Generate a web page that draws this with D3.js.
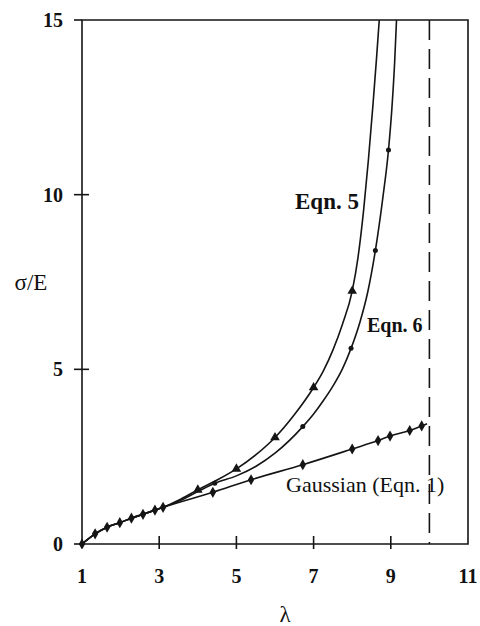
<head>
    <title>sigma/E vs lambda</title>
    <script src="https://d3js.org/d3.v7.min.js"></script>
    <style>
        body { margin: 0; background: white; }
        .tick-label { font-family: "Liberation Serif", serif; font-size: 20px; font-weight: bold; fill: #111; }
        .axis-title { font-family: "Liberation Serif", serif; font-size: 23px; fill: #111; }
        .curve { fill: none; stroke: #151515; stroke-width: 1.6px; }
        .frame { stroke: #151515; stroke-width: 1.6px; fill: none; }
    </style>
</head>
<body>
    <div class="container"></div>
    <script>
        // values
        let lambdaTicks = [1, 3, 5, 7, 9, 11];
        let sigmaTicks = [0, 5, 10, 15];
        let lambdaLimit = 10;

        let shared = [[1, 0], [1.34, 0.29], [1.65, 0.48], [1.98, 0.61], [2.28, 0.74], [2.58, 0.85], [2.89, 0.97], [3.1, 1.05]];

        let gaussLine = shared.concat([[4.39, 1.48], [5.38, 1.84], [6.72, 2.27], [8.0, 2.72], [8.67, 2.96], [8.98, 3.09], [9.49, 3.25], [9.8, 3.38], [9.94, 3.44]]);
        let gaussMarks = shared.concat([[4.39, 1.48], [5.38, 1.84], [6.72, 2.27], [8.0, 2.72], [8.67, 2.96], [8.98, 3.09], [9.49, 3.25], [9.8, 3.38]]);

        let eqn5Line = shared.concat([[3.5, 1.25], [4.0, 1.55], [4.5, 1.83], [5.0, 2.15], [5.5, 2.55], [6.0, 3.05], [6.5, 3.7], [7.0, 4.48], [7.25, 4.95], [7.5, 5.55], [7.75, 6.3], [8.0, 7.24], [8.15, 8.2], [8.3, 9.6], [8.42, 11.0], [8.54, 12.6], [8.63, 13.9], [8.72, 15.3]]);
        let eqn5Marks = [[4.0, 1.55], [5.0, 2.15], [6.0, 3.05], [7.0, 4.48], [8.0, 7.24]];

        let eqn6Line = shared.concat([[3.5, 1.22], [4.0, 1.5], [4.44, 1.74], [5.0, 1.95], [5.5, 2.22], [6.0, 2.6], [6.72, 3.36], [7.0, 3.72], [7.25, 4.1], [7.5, 4.52], [7.75, 5.02], [7.97, 5.6], [8.2, 6.35], [8.4, 7.2], [8.6, 8.4], [8.79, 9.88], [8.94, 11.28], [9.03, 12.5], [9.1, 13.8], [9.16, 15.3]]);
        let eqn6Marks = [[4.44, 1.74], [6.72, 3.36], [7.97, 5.6], [8.6, 8.4], [8.94, 11.28]];

        let svg = d3.select(".container").append("svg").attr("width", 480).attr("height", 626);

        let x = d3.scaleLinear().domain([1, 11]).range([82, 468]);
        let y = d3.scaleLinear().domain([0, 15]).range([544, 20]);

        svg.append("clipPath").attr("id", "plot")
            .append("rect")
            .attr("x", x(1) - 5).attr("y", y(15))
            .attr("width", x(11) - x(1) + 5).attr("height", y(0) - y(15) + 5);

        // frame
        svg.append("path").attr("class", "frame")
            .attr("d", "M" + x(1) + "," + y(0) + "V" + y(15) + "H" + x(11) + "V" + y(0) + "Z");

        // x ticks (cross the axis)
        svg.selectAll(".xtick").data(lambdaTicks.slice(1, -1)).enter().append("line")
            .attr("class", "frame")
            .attr("x1", function(d) { return x(d); }).attr("x2", function(d) { return x(d); })
            .attr("y1", y(0) - 8).attr("y2", y(0) + 5);
        svg.selectAll(".xlab").data(lambdaTicks).enter().append("text")
            .attr("class", "tick-label")
            .attr("x", function(d) { return x(d); })
            .attr("y", 583)
            .attr("text-anchor", "middle")
            .text(function(d) { return d; });

        // y ticks
        svg.selectAll(".ytick").data(sigmaTicks).enter().append("line")
            .attr("class", "frame")
            .attr("x1", x(1) - 8).attr("x2", function(d) { return (d == 0 || d == 15) ? x(1) : x(1) + 7; })
            .attr("y1", function(d) { return y(d); }).attr("y2", function(d) { return y(d); });
        svg.selectAll(".ylab").data(sigmaTicks).enter().append("text")
            .attr("class", "tick-label")
            .attr("x", 63)
            .attr("y", function(d) { return y(d) + 7; })
            .attr("text-anchor", "end")
            .text(function(d) { return d; });

        svg.append("text").attr("class", "axis-title")
            .attr("x", 31).attr("y", 290).attr("text-anchor", "middle")
            .text("σ/E");
        svg.append("text").attr("class", "axis-title")
            .attr("x", 285).attr("y", 622).attr("text-anchor", "middle")
            .text("λ");

        // dashed limit
        svg.append("line").attr("class", "frame")
            .attr("x1", x(lambdaLimit)).attr("x2", x(lambdaLimit))
            .attr("y1", y(15)).attr("y2", y(0))
            .style("stroke-dasharray", "20,9");

        let line = d3.line()
            .x(function(d) { return x(d[0]); })
            .y(function(d) { return y(d[1]); })
            .curve(d3.curveMonotoneX);

        let curves = svg.append("g").attr("clip-path", "url(#plot)");
        [gaussLine, eqn5Line, eqn6Line].forEach(function(pts) {
            curves.append("path").datum(pts).attr("class", "curve").attr("d", line);
        });

        // markers
        curves.selectAll(".diamond").data(gaussMarks).enter().append("path")
            .attr("d", d3.symbol().type(d3.symbolDiamond).size(36))
            .attr("transform", function(d) { return "translate(" + x(d[0]) + "," + y(d[1]) + ")"; })
            .style("fill", "#151515");
        curves.selectAll(".tri").data(eqn5Marks).enter().append("path")
            .attr("d", d3.symbol().type(d3.symbolTriangle).size(40))
            .attr("transform", function(d) { return "translate(" + x(d[0]) + "," + y(d[1]) + ")"; })
            .style("fill", "#151515");
        curves.selectAll(".dot").data(eqn6Marks).enter().append("circle")
            .attr("cx", function(d) { return x(d[0]); })
            .attr("cy", function(d) { return y(d[1]); })
            .attr("r", 2.5)
            .style("fill", "#151515");

        // curve labels
        svg.append("text").attr("class", "axis-title").style("font-weight", "bold")
            .attr("x", 295).attr("y", 209).text("Eqn. 5");
        svg.append("text").attr("class", "axis-title").style("font-weight", "bold").style("font-size", "20px")
            .attr("x", 367).attr("y", 332).text("Eqn. 6");
        svg.append("text").attr("class", "axis-title").style("font-size", "22px")
            .attr("x", 286).attr("y", 492).text("Gaussian (Eqn. 1)");
    </script>
</body>
